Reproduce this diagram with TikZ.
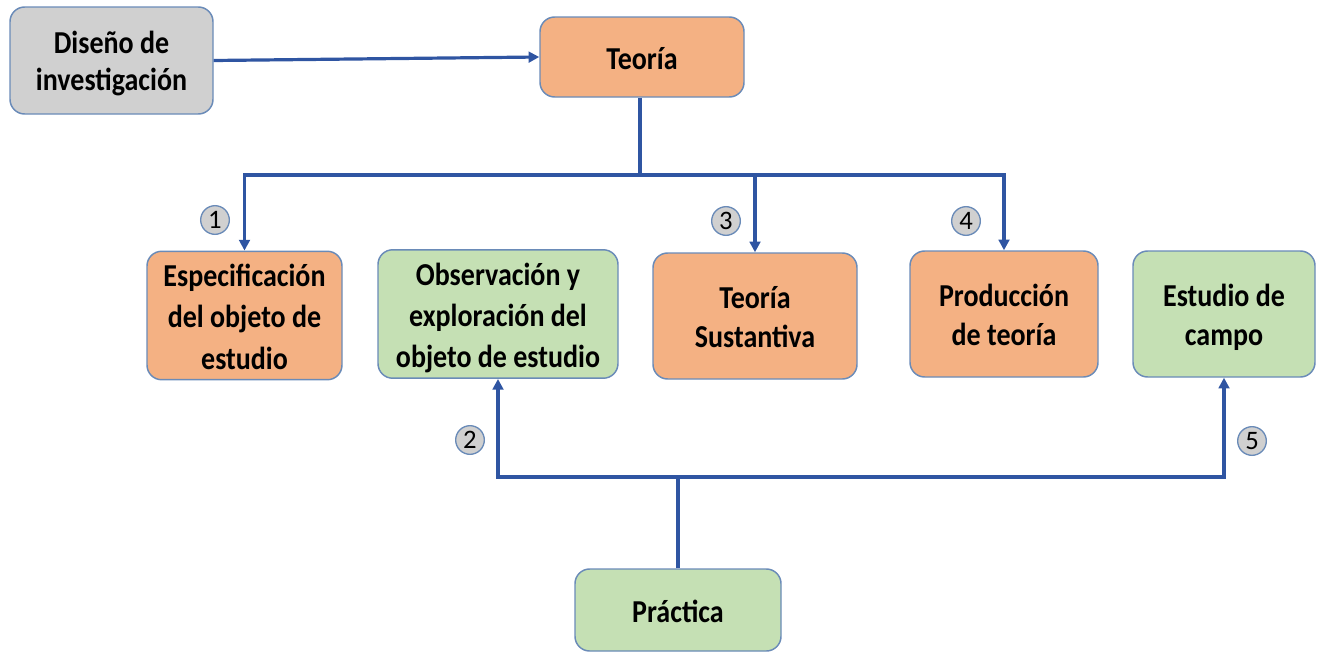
\documentclass[tikz,border=0pt]{standalone}
\usepackage{fontspec}
\setmainfont{Carlito}
\usetikzlibrary{arrows.meta}
\definecolor{linec}{HTML}{2F55A2}
\definecolor{bordc}{HTML}{6A8BB8}
\definecolor{orf}{HTML}{F4B183}
\definecolor{grf}{HTML}{C5E0B4}
\definecolor{gyf}{HTML}{D0D0D0}
\newcommand{\stxt}[1]{\raisebox{-3.2pt}[\height][\depth]{\scalebox{1}[1.14]{\begin{tabular}{@{}c@{}}#1\end{tabular}}}}
\tikzset{
  box/.style={draw=bordc, line width=1.1pt, rounded corners=11pt, align=center, inner sep=2pt,
    font=\fontsize{21}{26}\selectfont\bfseries},
  orbox/.style={box, fill=orf},
  grbox/.style={box, fill=grf},
  gybox/.style={box, fill=gyf},
  conn/.style={draw=linec, line width=2.4pt},
  arr/.style={conn, -{Triangle[length=8pt,width=8pt]}},
  num/.style={circle, draw=bordc, fill=gyf, line width=1pt, minimum size=21.5pt, inner sep=0pt,
    font=\fontsize{20}{20}\selectfont},
}
\begin{document}
\begin{tikzpicture}[x=0.75pt,y=-0.75pt]
\useasboundingbox (0,0) rectangle (1318,653);
\node[gybox, minimum width=152.25pt, minimum height=80.25pt, font=\fontsize{21}{24.3}\selectfont\bfseries] (dis) at (111.5,60.5) {\stxt{Diseño de\\investigación}};
\node[orbox, minimum width=153pt, minimum height=60pt] (teo) at (642,57) {\stxt{Teoría}};
\node[orbox, minimum width=146.25pt, minimum height=95.25pt, font=\fontsize{21}{27}\selectfont\bfseries] (esp) at (244.5,315.5) {\stxt{Especificación\\del objeto de\\estudio}};
\node[grbox, minimum width=180pt, minimum height=94.5pt, font=\fontsize{21}{27}\selectfont\bfseries] (obs) at (498,314) {\stxt{Observación y\\exploración del\\objeto de estudio}};
\node[orbox, minimum width=153pt, minimum height=94.5pt] (sus) at (755,316) {\stxt{Teoría\\Sustantiva}};
\node[orbox, minimum width=141pt, minimum height=94.5pt] (pro) at (1004,314) {\stxt{Producción\\de teoría}};
\node[grbox, minimum width=136.5pt, minimum height=94.5pt] (est) at (1224,314) {\stxt{Estudio de\\campo}};
\node[grbox, minimum width=154.5pt, minimum height=61.5pt] (pra) at (678,610) {\stxt{Práctica}};

\coordinate (top) at (640,175);
\coordinate (bot) at (678,477);

\draw[arr] (dis.east) -- (teo.west);
\draw[conn] (teo.south -| top) -- (top);
\draw[arr] (top) -| (esp.north);
\draw[arr] (top) -| (sus.north);
\draw[arr] (top) -| (pro.north);
\draw[conn] (pra.north) -- (bot);
\draw[arr] (bot) -| (obs.south);
\draw[arr] (bot) -| (est.south);

\node[num] (n1) at (215,220) {1};
\node[num] (n3) at (726,221) {3};
\node[num] (n4) at (966,221) {4};
\node[num] (n2) at (470,440) {2};
\node[num] (n5) at (1252,441) {5};
\end{tikzpicture}
\end{document}
